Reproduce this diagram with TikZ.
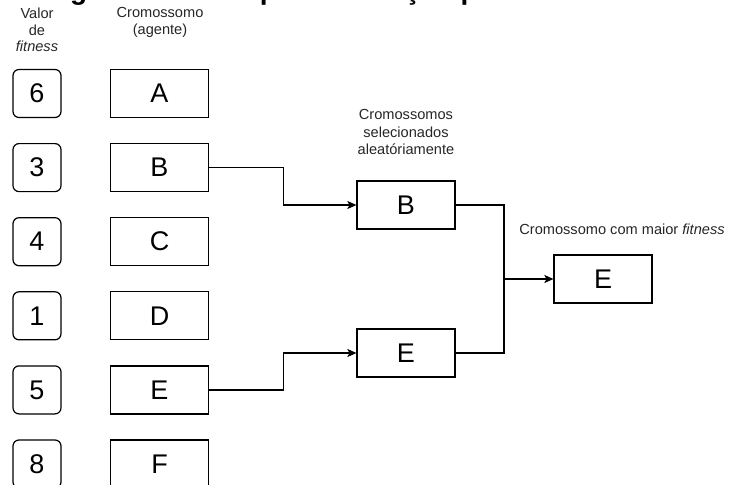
\documentclass[tikz,border=0pt]{standalone}
\usepackage{fontspec}
\setmainfont{Liberation Sans}
\usetikzlibrary{arrows.meta}

\begin{document}
\begin{tikzpicture}[x=1pt,y=-1pt,
  fitbox/.style={draw=black, line width=1.2pt, rounded corners=6pt,
    minimum width=48pt, minimum height=48pt, inner sep=0pt,
    font=\fontsize{27}{30}\selectfont},
  cromobox/.style={draw=black, line width=1.2pt,
    minimum width=98pt, minimum height=48pt, inner sep=0pt,
    font=\fontsize{27}{30}\selectfont},
  caption/.style={align=center, text=black!85, inner sep=0pt,
    font=\fontsize{14.6}{16.5}\selectfont},
  link/.style={draw=black, line width=1.2pt},
  tolink/.style={link, -{Stealth[length=9pt, width=8pt, inset=2pt]}}]
\useasboundingbox (0,0) rectangle (729,485);
\node[anchor=base west, inner sep=0pt, font=\fontsize{28}{30}\selectfont\bfseries]
  (title) at (45,-0.5) {Figura 1 – Exemplo de seleção por torneio};
\node[caption] (valor) at (37,30) {Valor\\de\\\textit{fitness}};
\node[caption] (agente) at (160,22.5) {Cromossomo\\(agente)};
\foreach \v/\c [count=\i] in {6/A,3/B,4/C,1/D,5/E,8/F}{
  \node[fitbox] (fit\i) at (37,93.5+74.1*\i-74.1) {\v};
  \node[cromobox] (cro\i) at (159.5,93.5+74.1*\i-74.1) {\c};
}
\node[caption, text width=120pt, font=\fontsize{14.6}{17.5}\selectfont]
  (sellabel) at (406,132) {Cromossomos\\selecionados\\aleatóriamente};
\node[cromobox] (selB) at (406,205) {B};
\node[cromobox] (selE) at (406,353) {E};
\node[caption] (bestlabel) at (622,229) {Cromossomo com maior \textit{fitness}};
\node[cromobox] (best) at (603,279) {E};
\coordinate (join) at (504,279);
\draw[tolink] (cro2.east) -- ++(74,0) |- (selB.west);
\draw[tolink] (cro5.east) -- ++(74,0) |- (selE.west);
\draw[link] (selB.east) -| (join) |- (selE.east);
\draw[tolink] (join) -- (best.west);
\end{tikzpicture}
\end{document}
